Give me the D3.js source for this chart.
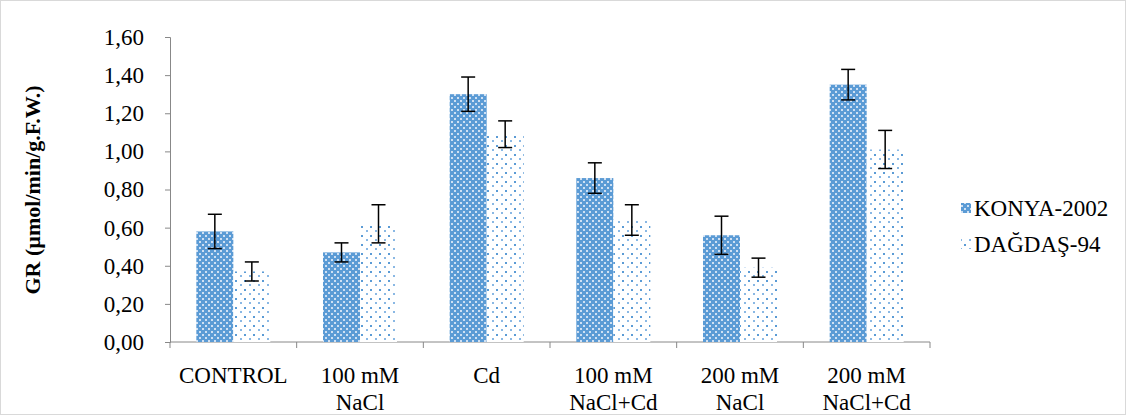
<!DOCTYPE html>
<html><head><meta charset="utf-8">
<script src="https://cdn.jsdelivr.net/npm/d3@7"></script>
<style>body{margin:0;background:#fff;font-family:"Liberation Serif","Times New Roman",serif;}</style>
</head><body><svg id="c" width="1126" height="415"></svg>
<script>
// chart data
var categories = [["CONTROL"], ["100 mM", "NaCl"], ["Cd"], ["100 mM", "NaCl+Cd"], ["200 mM", "NaCl"], ["200 mM", "NaCl+Cd"]];
var seriesNames = ["KONYA-2002", "DAĞDAŞ-94"];
var konya = [0.58, 0.47, 1.30, 0.86, 0.56, 1.35];
var konyaErr = [0.09, 0.05, 0.09, 0.08, 0.10, 0.08];
var dagdas = [0.37, 0.62, 1.09, 0.64, 0.39, 1.01];
var dagdasErr = [0.05, 0.10, 0.07, 0.08, 0.05, 0.10];
var yTicks = [0, 0.2, 0.4, 0.6, 0.8, 1.0, 1.2, 1.4, 1.6];

var svg = d3.select("#c");
svg.append("rect").attr("x", 0.5).attr("y", 0.5).attr("width", 1125).attr("height", 414)
	.attr("fill", "#fff").attr("stroke", "#d9d9d9");

var defs = svg.append("defs");
// dense checker for KONYA
var p1 = defs.append("pattern").attr("id", "pk").attr("width", 6).attr("height", 6)
	.attr("patternUnits", "userSpaceOnUse");
p1.append("rect").attr("width", 6).attr("height", 6).attr("fill", "#5b9bd5");
p1.append("rect").attr("x", 1).attr("y", 1).attr("width", 2).attr("height", 2).attr("fill", "#cfe0f3");
p1.append("rect").attr("x", 4).attr("y", 4).attr("width", 2).attr("height", 2).attr("fill", "#cfe0f3");
// sparse dots for DAGDAS
var p2 = defs.append("pattern").attr("id", "pd").attr("width", 9).attr("height", 9)
	.attr("patternUnits", "userSpaceOnUse");
p2.append("rect").attr("width", 9).attr("height", 9).attr("fill", "#fff");
p2.append("rect").attr("x", 1).attr("y", 1).attr("width", 2).attr("height", 2).attr("fill", "#5b9bd5");
p2.append("rect").attr("x", 6).attr("y", 5).attr("width", 2).attr("height", 2).attr("fill", "#8ab8e4");

var x = d3.scaleBand().domain(d3.range(categories.length)).range([170, 930]);
var y = d3.scaleLinear().domain([0, 1.6]).range([342, 37]);
var bw = 37;
var fs = 23;

// axes
var ya = svg.append("g").attr("transform", "translate(170,0)")
	.call(d3.axisLeft(y).tickValues(yTicks).tickSize(5).tickFormat(function (d) { return d3.format(".2f")(d).replace(".", ","); }));
ya.selectAll("text").attr("font-size", fs).attr("font-family", "Liberation Serif").attr("fill", "#000").attr("dx", -18);
ya.select(".domain").attr("stroke", "#888");
ya.selectAll("line").attr("stroke", "#888");

var xa = svg.append("g").attr("transform", "translate(0,342)");
xa.append("line").attr("x1", 170).attr("x2", 930).attr("stroke", "#888");
x.domain().concat([categories.length]).forEach(function (i) {
	var xx = i < categories.length ? x(i) : 930;
	xa.append("line").attr("x1", xx).attr("x2", xx).attr("y1", 0).attr("y2", 6).attr("stroke", "#888");
});
categories.forEach(function (lines, i) {
	lines.forEach(function (t, j) {
		svg.append("text").attr("x", x(i) + x.bandwidth() / 2).attr("y", 383 + j * 27)
			.attr("text-anchor", "middle").attr("font-size", fs).text(t);
	});
});

svg.append("text").attr("transform", "translate(40,190) rotate(-90)").attr("text-anchor", "middle")
	.attr("font-size", 22).attr("font-weight", "bold").text("GR (µmol/min/g.F.W.)");

function drawSeries(vals, errs, fill, off) {
	var g = svg.append("g");
	vals.forEach(function (v, i) {
		var cx = x(i) + x.bandwidth() / 2 + off;
		g.append("rect").attr("x", cx - bw / 2).attr("y", y(v)).attr("width", bw).attr("height", y(0) - y(v)).attr("fill", fill);
		var e = errs[i];
		g.append("line").attr("x1", cx).attr("x2", cx).attr("y1", y(v + e)).attr("y2", y(v - e)).attr("stroke", "#000").attr("stroke-width", 1.5);
		[v + e, v - e].forEach(function (w) {
			g.append("line").attr("x1", cx - 7).attr("x2", cx + 7).attr("y1", y(w)).attr("y2", y(w)).attr("stroke", "#000").attr("stroke-width", 1.5);
		});
	});
}
drawSeries(konya, konyaErr, "url(#pk)", -bw / 2);
drawSeries(dagdas, dagdasErr, "url(#pd)", bw / 2);

// legend
[["url(#pk)", 216], ["url(#pd)", 252]].forEach(function (l, i) {
	svg.append("rect").attr("x", 961).attr("y", l[1] - 13).attr("width", 10).attr("height", 10).attr("fill", l[0]);
	svg.append("text").attr("x", 974).attr("y", l[1]).attr("font-size", fs).text(seriesNames[i]);
});
</script></body></html>
